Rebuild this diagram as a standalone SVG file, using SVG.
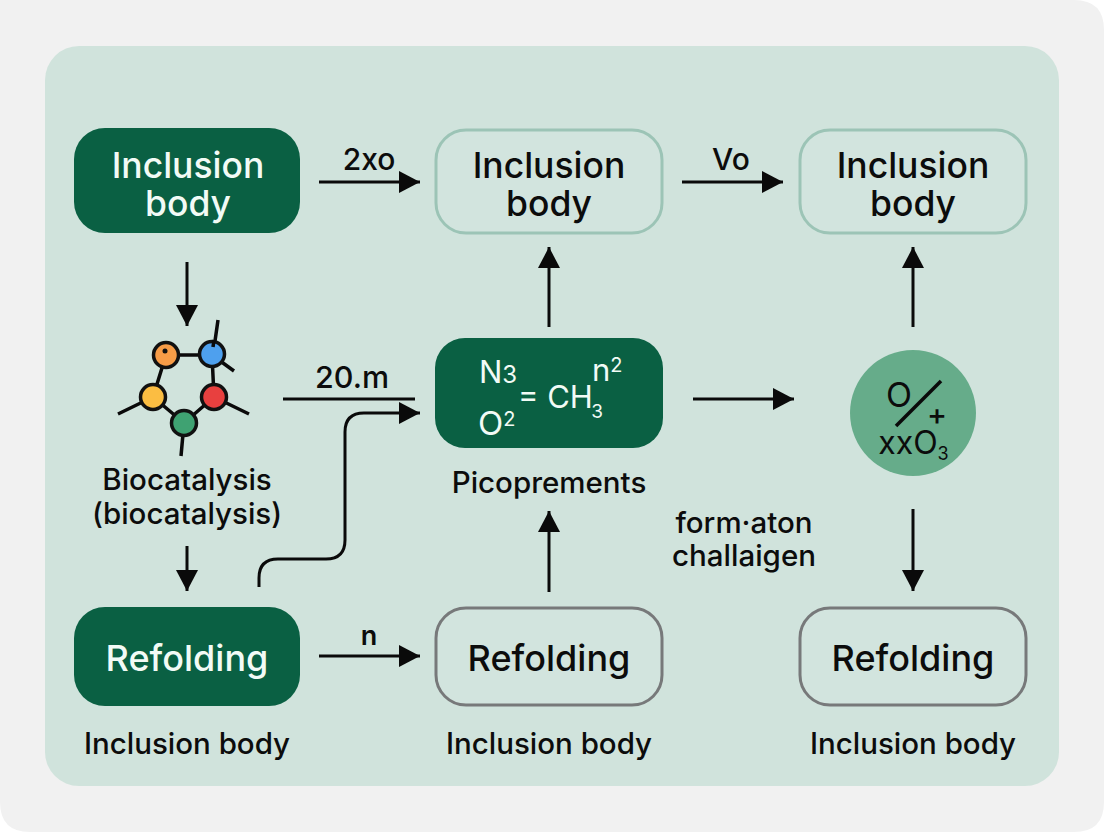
<svg xmlns="http://www.w3.org/2000/svg" width="1104" height="832" viewBox="0 0 1104 832">
<style>
text{font-family:"Inter","Liberation Sans",sans-serif;text-anchor:middle;fill:#0c0c0c}
.t{font-size:35.5px;font-weight:500}
.r{font-size:36px;font-weight:500}
.w{fill:#f2fbf6}
.l{font-size:29.5px;font-weight:500}
.e{font-size:30px;font-weight:500}
.c{fill:none;stroke:#0a0a0a;stroke-width:3}
.d{fill:#0a6043}
.o{fill:#d2e4de;stroke:#9cc4b6;stroke-width:3}
.g{fill:#d2e4de;stroke:#77797a;stroke-width:3}
.m{stroke:#0a0a0a;stroke-width:3.5}
.b{stroke:#111;stroke-width:3.5}
</style>
<defs><marker id="ar" markerUnits="userSpaceOnUse" markerWidth="22" markerHeight="22" refX="21" refY="11" orient="auto"><path d="M0,0L21,11L0,22Z" fill="#0a0a0a"/></marker></defs>
<rect width="1104" height="832" fill="#ffffff"/>
<path d="M0,0H1074Q1104,0 1104,30V802Q1104,832 1074,832H30Q0,832 0,802Z" fill="#f1f1f1"/>
<rect x="45" y="46" width="1014" height="740" rx="34" fill="#d0e3dc"/>
<g id="connectors">
<path class="c" marker-end="url(#ar)" d="M319,182H420"/>
<path class="c" marker-end="url(#ar)" d="M682,182H783"/>
<path class="c" marker-end="url(#ar)" d="M187,262V326"/>
<path class="c" marker-end="url(#ar)" d="M187,546V591"/>
<path class="c" d="M283,399H415"/>
<path class="c" marker-end="url(#ar)" d="M259,587V578Q259,559 278,559H326Q345,559 345,540V432Q345,413 364,413H420"/>
<path class="c" marker-end="url(#ar)" d="M693,399H794"/>
<path class="c" marker-end="url(#ar)" d="M549,327V247"/>
<path class="c" marker-end="url(#ar)" d="M913,327V247"/>
<path class="c" marker-end="url(#ar)" d="M549,592V511"/>
<path class="c" marker-end="url(#ar)" d="M913,509V591"/>
<path class="c" marker-end="url(#ar)" d="M319,656H420"/>
</g>
<g id="labels">
<text class="e" x="369" y="170">2xo</text>
<text class="e" x="731" y="170">Vo</text>
<text class="e" x="352" y="388" style="font-size:30.5px">20.m</text>
<text x="369" y="645" style="font-size:27px;font-weight:600">n</text>
<text class="l"><tspan x="187" y="490">Biocatalysis</tspan><tspan x="187" y="524">(biocatalysis)</tspan></text>
<text class="l" x="549" y="493">Picoprements</text>
<text class="l"><tspan x="744" y="533">form·aton</tspan><tspan x="744" y="566">challaigen</tspan></text>
<text class="l" x="187" y="754">Inclusion body</text>
<text class="l" x="549" y="754">Inclusion body</text>
<text class="l" x="913" y="754">Inclusion body</text>
</g>
<g id="n1"><rect class="d" x="74" y="128" width="226" height="105" rx="31"/><text class="t w"><tspan x="188" y="178">Inclusion</tspan><tspan x="188" y="216">body</tspan></text></g>
<g id="n2"><rect class="o" x="436" y="130" width="226" height="103" rx="30"/><text class="t"><tspan x="549" y="178">Inclusion</tspan><tspan x="549" y="216">body</tspan></text></g>
<g id="n3"><rect class="o" x="800" y="130" width="226" height="103" rx="30"/><text class="t"><tspan x="913" y="178">Inclusion</tspan><tspan x="913" y="216">body</tspan></text></g>
<g id="n4"><rect class="d" x="74" y="607" width="226" height="99" rx="31"/><text class="r w" x="187" y="671">Refolding</text></g>
<g id="n5"><rect class="g" x="436" y="608" width="226" height="97" rx="30"/><text class="r" x="549" y="671">Refolding</text></g>
<g id="n6"><rect class="g" x="800" y="608" width="226" height="97" rx="30"/><text class="r" x="913" y="671">Refolding</text></g>
<g id="n7"><rect class="d" x="435" y="338" width="228" height="110" rx="30"/>
<text class="w" x="479" y="383" style="font-size:31px;text-anchor:start">N<tspan style="font-size:24px">3</tspan></text>
<text class="w" x="478" y="435" style="font-size:33px;text-anchor:start">O<tspan dy="-9" style="font-size:20px">2</tspan></text>
<text class="w" x="518" y="408" style="font-size:31px;text-anchor:start">= CH</text>
<text class="w" x="592" y="381" style="font-size:31px;text-anchor:start">n<tspan dy="-9" style="font-size:20px">2</tspan></text>
<text class="w" x="597" y="418" style="font-size:19px">3</text>
</g>
<g id="n8"><circle cx="913" cy="413" r="63" fill="#66ac8a"/>
<path class="m" d="M896,426L941,381"/>
<text><tspan x="899" y="407" style="font-size:34px">O</tspan><tspan x="937" y="425" style="font-size:30px;font-weight:500">+</tspan><tspan x="908" y="454" style="font-size:32px">xxO</tspan><tspan x="943" y="460" style="font-size:18px">3</tspan></text>
</g>
<g id="n9">
<path class="m" fill="none" d="M166,355H212M166,355L153,397M212,355L214,397M153,397L184,423M214,397L184,423M218,320L213,355M212,355L234,371M153,397L118,414M214,397L249,414M184,423L181,456"/>
<circle class="b" cx="166" cy="355" r="12.5" fill="#f79c47"/>
<circle class="b" cx="212" cy="354" r="12.5" fill="#4ea0ee"/>
<circle class="b" cx="153" cy="397" r="12.5" fill="#fbbd42"/>
<circle class="b" cx="214" cy="397" r="12.5" fill="#e8403f"/>
<circle class="b" cx="184" cy="423" r="12.5" fill="#3fa272"/>
<circle cx="165" cy="351" r="2.5" fill="#111"/>
<path class="m" d="M214,340L213,347"/>
</g>
</svg>
